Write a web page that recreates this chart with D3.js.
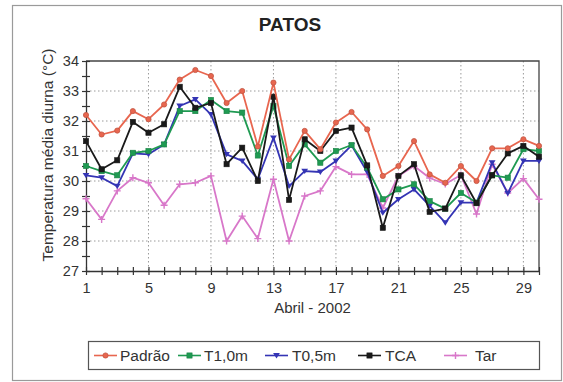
<!DOCTYPE html>
<html>
<head>
<meta charset="utf-8">
<script src="https://cdn.jsdelivr.net/npm/d3@7"></script>
<style>
  html, body { margin: 0; padding: 0; background: #fff; }
  svg { display: block; font-family: "Liberation Sans", Arial, sans-serif; }
</style>
</head>
<body>
<svg id="chart" width="563" height="382"></svg>
<script>
// Daily mean daytime temperature, Patos, April 2002
const days = d3.range(1, 31);
const padrao = [32.2, 31.55, 31.68, 32.33, 32.06, 32.55, 33.38, 33.7, 33.5, 32.6, 33.0, 31.15, 33.28, 30.72, 31.67, 31.06, 31.95, 32.3, 31.72, 30.17, 30.5, 31.33, 30.22, 29.94, 30.5, 30.0, 31.09, 31.09, 31.39, 31.17];
const t10 = [30.5, 30.33, 30.19, 30.94, 31.0, 31.22, 32.33, 32.33, 32.7, 32.33, 32.28, 30.85, 32.5, 30.5, 31.22, 30.61, 31.0, 31.2, 30.45, 29.39, 29.72, 29.89, 29.33, 29.08, 29.6, 29.28, 30.19, 30.11, 31.06, 31.0];
const t05 = [30.19, 30.11, 29.83, 30.92, 30.89, 31.22, 32.5, 32.72, 32.22, 30.89, 30.67, 30.06, 31.44, 29.83, 30.33, 30.3, 30.67, 31.19, 30.3, 28.94, 29.39, 29.72, 29.17, 28.61, 29.28, 29.28, 30.61, 29.59, 30.67, 30.67];
const tca = [31.33, 30.39, 30.69, 31.97, 31.61, 31.89, 33.14, 32.44, 32.6, 30.56, 31.11, 30.0, 32.81, 29.37, 31.39, 31.0, 31.67, 31.78, 30.52, 28.44, 30.17, 30.56, 28.97, 29.08, 30.19, 29.26, 30.19, 30.92, 31.17, 30.81];
const tar = [29.41, 28.72, 29.67, 30.11, 29.94, 29.19, 29.89, 29.94, 30.17, 28.0, 28.83, 28.08, 30.06, 28.0, 29.5, 29.67, 30.48, 30.22, 30.22, 29.1, 30.17, 30.5, 30.1, 29.9, 30.2, 28.9, 30.56, 29.6, 30.08, 29.39];

const xTickLabels = [1, 5, 9, 13, 17, 21, 25, 29];
const yTickLabels = [27, 28, 29, 30, 31, 32, 33, 34];

const seriesNames = ["Padrão", "T1,0m", "T0,5m", "TCA", "Tar"];
const seriesValues = [padrao, t10, t05, tca, tar];
const seriesColors = ["#e8664f", "#1f9a52", "#3434b4", "#1a1a1a", "#d877c9"];
const seriesSymbols = ["circle", "square", "triangle", "square", "plus"];

const svg = d3.select("#chart");

// outer frame
svg.append("rect")
  .attr("x", 12.5).attr("y", 5.5).attr("width", 549).attr("height", 375)
  .attr("fill", "#fff").attr("stroke", "#9a9a9a").attr("stroke-width", 1.2);

const plot = { left: 86, right: 539, top: 61, bottom: 271 };

const x = d3.scaleLinear().domain([1, 30]).range([plot.left, plot.right]);
const y = d3.scaleLinear().domain([27, 34]).range([plot.bottom, plot.top]);

// title
svg.append("text")
  .attr("x", 290).attr("y", 31)
  .attr("text-anchor", "middle")
  .attr("font-size", 19).attr("font-weight", "bold").attr("fill", "#222")
  .text("PATOS");

// dotted grid
const grid = svg.append("g").attr("stroke", "#9a9a9a").attr("stroke-width", 1)
  .attr("stroke-dasharray", "1.5,2.5");
grid.selectAll("line.h").data([28, 29, 30, 31, 32, 33]).join("line")
  .attr("x1", plot.left).attr("x2", plot.right)
  .attr("y1", d => y(d)).attr("y2", d => y(d));
grid.selectAll("line.v").data(xTickLabels.slice(1)).join("line")
  .attr("y1", plot.top).attr("y2", plot.bottom)
  .attr("x1", d => x(d)).attr("x2", d => x(d));

// plot box (top and right)
svg.append("path")
  .attr("d", `M${plot.left},${plot.top}H${plot.right}V${plot.bottom}`)
  .attr("fill", "none").attr("stroke", "#444").attr("stroke-width", 1.3);

// x axis: a crossing tick on every day, labels every 4 days
const xAxis = d3.axisBottom(x)
  .tickValues(days)
  .tickSizeInner(4).tickSizeOuter(0)
  .tickFormat(d => xTickLabels.includes(d) ? d : "");
const gx = svg.append("g").attr("transform", `translate(0,${plot.bottom})`).call(xAxis);
gx.select(".domain").attr("stroke", "#333").attr("stroke-width", 1.3);
gx.selectAll(".tick line").attr("stroke", "#333").attr("y1", -4).attr("stroke-width", 1.2);
gx.selectAll(".tick text").attr("font-size", 14.5).attr("fill", "#333").attr("dy", "1.05em")
  .attr("font-family", "Liberation Sans, Arial, sans-serif");

// y axis: crossing ticks every 0.5, labels on integers
const yAxis = d3.axisLeft(y)
  .tickValues(d3.range(27, 34.01, 0.5))
  .tickSizeInner(4).tickSizeOuter(0)
  .tickFormat(d => yTickLabels.includes(d) ? d : "");
const gy = svg.append("g").attr("transform", `translate(${plot.left},0)`).call(yAxis);
gy.select(".domain").attr("stroke", "#333").attr("stroke-width", 1.3);
gy.selectAll(".tick line").attr("stroke", "#333").attr("x1", 4).attr("stroke-width", 1.2);
gy.selectAll(".tick text").attr("font-size", 14.5).attr("fill", "#333").attr("x", -7)
  .attr("font-family", "Liberation Sans, Arial, sans-serif");

// axis titles
svg.append("text")
  .attr("x", (plot.left + plot.right) / 2).attr("y", 313)
  .attr("text-anchor", "middle").attr("font-size", 15).attr("fill", "#333")
  .text("Abril - 2002");
svg.append("text")
  .attr("transform", `translate(53,155) rotate(-90)`)
  .attr("text-anchor", "middle").attr("font-size", 15.5).attr("fill", "#333")
  .text("Temperatura média diurna (°C)");

// marker drawing
function drawMarker(g, kind, color, cx, cy) {
  if (kind === "circle") {
    g.append("circle").attr("cx", cx).attr("cy", cy).attr("r", 2.6)
      .attr("fill", color).attr("stroke", d3.color(color).darker(0.5)).attr("stroke-width", 0.8);
  } else if (kind === "square") {
    g.append("rect").attr("x", cx - 2.6).attr("y", cy - 2.6).attr("width", 5.2).attr("height", 5.2)
      .attr("fill", color).attr("stroke", d3.color(color).darker(0.5)).attr("stroke-width", 0.6);
  } else if (kind === "triangle") {
    g.append("path").attr("d", `M${cx - 3.4},${cy - 2.4}L${cx + 3.4},${cy - 2.4}L${cx},${cy + 3}Z`)
      .attr("fill", color);
  } else if (kind === "plus") {
    g.append("path").attr("d", `M${cx - 3.5},${cy}H${cx + 3.5}M${cx},${cy - 3.5}V${cy + 3.5}`)
      .attr("stroke", color).attr("stroke-width", 1.4);
  }
}

const line = d3.line().x((d, i) => x(days[i])).y(d => y(d));

// draw series bottom-up so the reference curve sits on top
const order = [4, 2, 1, 3, 0];
order.forEach(k => {
  const g = svg.append("g");
  g.append("path").datum(seriesValues[k])
    .attr("d", line)
    .attr("fill", "none").attr("stroke", seriesColors[k])
    .attr("stroke-width", 1.8).attr("stroke-linejoin", "round");
  seriesValues[k].forEach((v, i) => drawMarker(g, seriesSymbols[k], seriesColors[k], x(days[i]), y(v)));
});

// legend
const legend = svg.append("g");
legend.append("rect")
  .attr("x", 88.5).attr("y", 341.5).attr("width", 451).attr("height", 28)
  .attr("fill", "#fff").attr("stroke", "#555").attr("stroke-width", 1.2);
const legendItems = [
  { sx: 94, tx: 120 },
  { sx: 178, tx: 204 },
  { sx: 265, tx: 292 },
  { sx: 358, tx: 385 },
  { sx: 444, tx: 475 }
];
legendItems.forEach((it, k) => {
  const cy = 355.5;
  legend.append("line").attr("x1", it.sx).attr("x2", it.sx + 23).attr("y1", cy).attr("y2", cy)
    .attr("stroke", seriesColors[k]).attr("stroke-width", 1.6);
  drawMarker(legend, seriesSymbols[k], seriesColors[k], it.sx + 11.5, cy);
  legend.append("text").attr("x", it.tx).attr("y", cy + 5.5)
    .attr("font-size", 15.5).attr("fill", "#333").text(seriesNames[k]);
});
</script>
</body>
</html>
